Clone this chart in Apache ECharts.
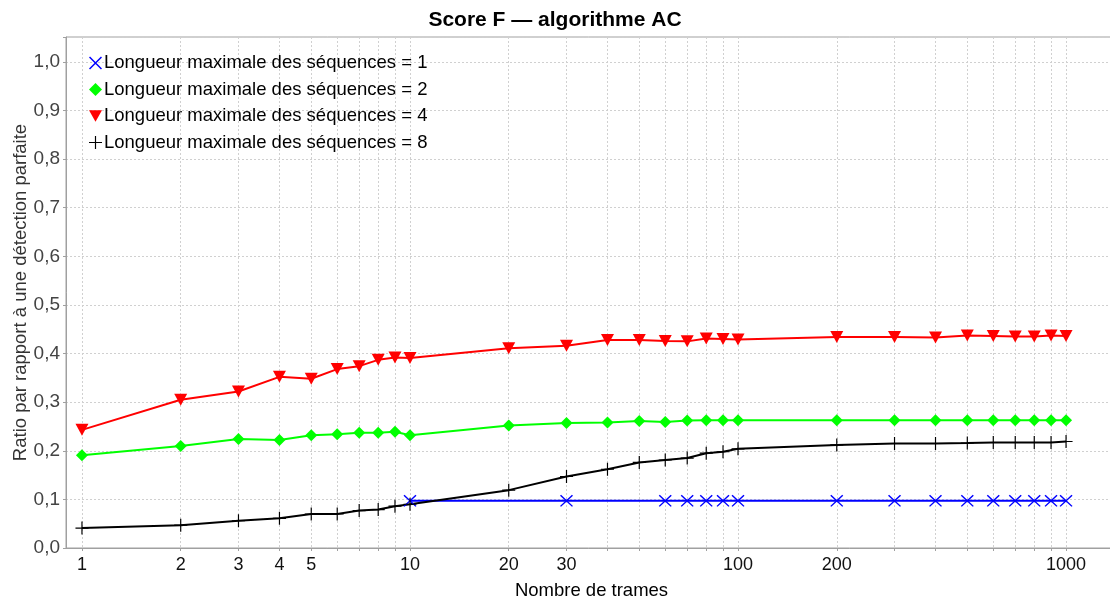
<!DOCTYPE html>
<html>
<head>
<meta charset="utf-8">
<title>Score F — algorithme AC</title>
<script src="https://cdn.jsdelivr.net/npm/echarts@6/dist/echarts.min.js"></script>
<style>
  html, body { margin: 0; padding: 0; background: #fff; }
  #main { width: 1110px; height: 603px; }
</style>
</head>
<body>
<div id="main"></div>
<script>
// x positions (nombre de trames)
var framesAll = [1, 2, 3, 4, 5, 6, 7, 8, 9, 10, 20, 30, 40, 50, 60, 70, 80, 90, 100,
                 200, 300, 400, 500, 600, 700, 800, 900, 1000];
var framesSeq1 = [10, 30, 60, 70, 80, 90, 100, 200, 300, 400, 500, 600, 700, 800, 900, 1000];

// values
var scoreSeq1 = [0.097, 0.097, 0.097, 0.097, 0.097, 0.097, 0.097, 0.097,
                 0.097, 0.097, 0.097, 0.097, 0.097, 0.097, 0.097, 0.097];
var scoreSeq2 = [0.191, 0.210, 0.224, 0.222, 0.232, 0.234, 0.237, 0.237, 0.239, 0.232,
                 0.252, 0.257, 0.258, 0.261, 0.259, 0.262, 0.263, 0.263, 0.263,
                 0.263, 0.263, 0.263, 0.263, 0.263, 0.263, 0.263, 0.263, 0.263];
var scoreSeq4 = [0.243, 0.305, 0.322, 0.352, 0.348, 0.368, 0.374, 0.387, 0.392, 0.391,
                 0.411, 0.416, 0.428, 0.428, 0.426, 0.425, 0.431, 0.430, 0.429,
                 0.434, 0.434, 0.433, 0.437, 0.436, 0.435, 0.435, 0.437, 0.436];
var scoreSeq8 = [0.041, 0.047, 0.056, 0.061, 0.070, 0.070, 0.077, 0.079, 0.086, 0.090,
                 0.119, 0.147, 0.162, 0.176, 0.181, 0.185, 0.195, 0.198, 0.204,
                 0.212, 0.215, 0.215, 0.216, 0.217, 0.217, 0.217, 0.217, 0.219];

var seriesNames = ['Longueur maximale des séquences = 1', 'Longueur maximale des séquences = 2',
                   'Longueur maximale des séquences = 4', 'Longueur maximale des séquences = 8'];

var xLabelValues = [1, 2, 3, 4, 5, 10, 20, 30, 100, 200, 1000];
var xGridValues = [1, 2, 3, 4, 5, 6, 7, 8, 9, 10, 20, 30, 40, 50, 60, 70, 80, 90, 100,
                   200, 300, 400, 500, 600, 700, 800, 900, 1000];

// marker shapes
var symCross = 'path://M0,1.6 L1.6,0 L20,18.4 L18.4,20 Z M18.4,0 L20,1.6 L1.6,20 L0,18.4 Z';
var symPlus = 'path://M0,9.1 L20,9.1 L20,10.9 L0,10.9 Z M9.1,0 L10.9,0 L10.9,20 L9.1,20 Z';
var symDown = 'path://M0,0 L20,0 L10,18 Z';
var symDiamond = 'diamond';

function pairs(xs, ys) {
  var out = [];
  for (var i = 0; i < xs.length; i++) out.push([xs[i], ys[i]]);
  return out;
}

var myChart = echarts.init(document.getElementById('main'), null, { renderer: 'canvas' });
var font = "'Liberation Sans', Arial, sans-serif";

var option = {
  backgroundColor: '#fff',
  animation: false,
  title: {
    text: 'Score F — algorithme AC',
    left: 'center',
    top: 5,
    textStyle: { fontFamily: font, fontSize: 21, fontWeight: 'bold', color: '#000' }
  },
  legend: {
    orient: 'vertical',
    left: 84,
    top: 48,
    itemWidth: 13,
    itemHeight: 13,
    itemGap: 6.5,
    textStyle: { fontFamily: font, fontSize: 18.5, lineHeight: 20, color: '#000', padding: [0, 0, 0, -3] },
    data: [
      { name: seriesNames[0], icon: symCross },
      { name: seriesNames[1], icon: symDiamond },
      { name: seriesNames[2], icon: symDown },
      { name: seriesNames[3], icon: symPlus }
    ]
  },
  grid: { left: 66, right: -1, top: 37, bottom: 55, containLabel: false, outerBoundsMode: 'none',
          show: true, borderColor: '#a0a0a0', borderWidth: 1 },
  xAxis: {
    type: 'log',
    logBase: 10,
    min: 0.894,
    max: 1371,
    name: 'Nombre de trames',
    nameLocation: 'middle',
    nameGap: 33,
    nameMoveOverlap: false,
    nameTextStyle: { fontFamily: font, fontSize: 18.5, color: '#000', padding: [0, 0, 0, 6] },
    axisLine: { show: true, lineStyle: { color: '#a0a0a0' } },
    axisTick: { show: true, length: 3, lineStyle: { color: '#a0a0a0' }, customValues: xGridValues },
    axisLabel: { fontFamily: font, fontSize: 18, color: '#111', margin: 8, customValues: xLabelValues,
                 formatter: function (v) { return String(Math.round(v)); } },
    splitLine: { show: true, lineStyle: { color: '#d0d0d0', type: [2, 2], width: 1 } }
  },
  yAxis: {
    type: 'value',
    min: 0,
    max: 1.051,
    interval: 0.1,
    name: 'Ratio par rapport à une détection parfaite',
    nameLocation: 'middle',
    nameGap: 35.5,
    nameMoveOverlap: false,
    nameTextStyle: { fontFamily: font, fontSize: 18.5, color: '#333' },
    axisLine: { show: true, lineStyle: { color: '#a0a0a0' } },
    axisTick: { show: true, length: 3, lineStyle: { color: '#a0a0a0' } },
    axisLabel: {
      fontFamily: font, fontSize: 19, color: '#444', margin: 6,
      formatter: function (v) {
        if (Math.abs(v * 10 - Math.round(v * 10)) > 1e-6) return '';
        return v.toFixed(1).replace('.', ',');
      }
    },
    splitLine: { show: true, lineStyle: { color: '#d0d0d0', type: [2, 2], width: 1 } }
  },
  series: [
    {
      name: seriesNames[0], type: 'line', data: pairs(framesSeq1, scoreSeq1),
      symbol: symCross, symbolSize: [13, 12], showAllSymbol: true,
      lineStyle: { color: '#0000ff', width: 2 }, itemStyle: { color: '#0000ff' }
    },
    {
      name: seriesNames[1], type: 'line', data: pairs(framesAll, scoreSeq2),
      symbol: symDiamond, symbolSize: 12, showAllSymbol: true,
      lineStyle: { color: '#00ff00', width: 2 }, itemStyle: { color: '#00ff00' }
    },
    {
      name: seriesNames[2], type: 'line', data: pairs(framesAll, scoreSeq4),
      symbol: symDown, symbolSize: [13, 12], showAllSymbol: true,
      lineStyle: { color: '#ff0000', width: 2 }, itemStyle: { color: '#ff0000' }
    },
    {
      name: seriesNames[3], type: 'line', data: pairs(framesAll, scoreSeq8),
      symbol: symPlus, symbolSize: 13, showAllSymbol: true,
      lineStyle: { color: '#000000', width: 2 }, itemStyle: { color: '#000000' }
    }
  ]
};

myChart.setOption(option);
</script>
</body>
</html>
